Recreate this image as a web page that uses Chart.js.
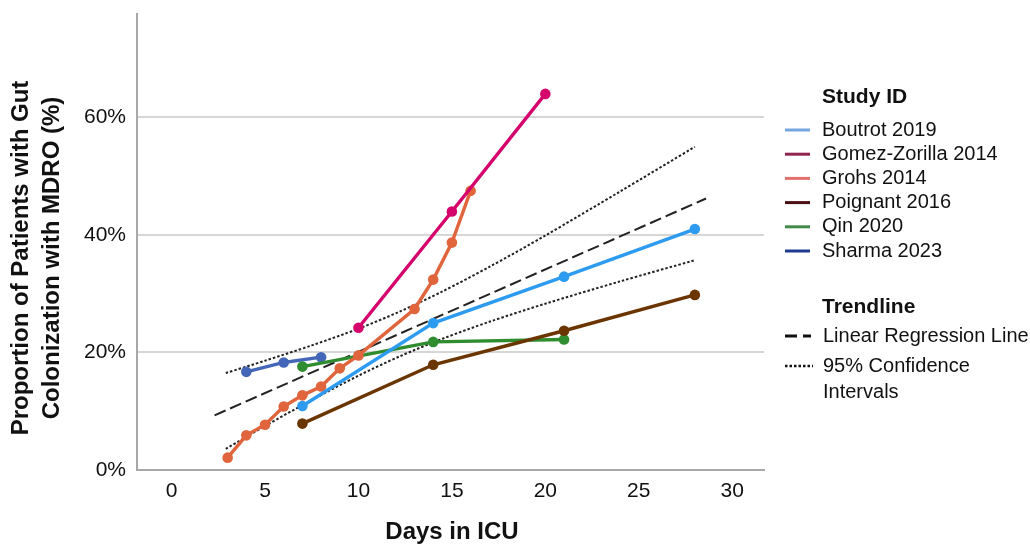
<!DOCTYPE html>
<html><head><meta charset="utf-8">
<script src="https://cdn.jsdelivr.net/npm/chart.js@4.4.1/dist/chart.umd.min.js"></script>
<style>html,body{margin:0;padding:0;background:#fff}#wrap{width:1030px;height:544px;position:relative}</style>
</head><body><div id="wrap"><canvas id="c" width="1030" height="544"></canvas></div>
<script>
// ---- data ----
const studyNames = ['Boutrot 2019','Gomez-Zorilla 2014','Grohs 2014','Poignant 2016','Qin 2020','Sharma 2023'];
const boutrotDays = [7,14,21,28];
const boutrotPct = [10.9,25.0,32.9,41.0];
const gomezDays = [10,15,20];
const gomezPct = [24.2,44.0,64.0];
const grohsDays = [3,4,5,6,7,8,9,10,13,14,15,16];
const grohsPct = [2.1,5.9,7.7,10.8,12.7,14.2,17.3,19.5,27.4,32.4,38.7,47.5];
const poignantDays = [7,14,21,28];
const poignantPct = [7.9,17.9,23.7,29.8];
const qinDays = [7,14,21];
const qinPct = [17.6,21.8,22.2];
const sharmaDays = [4,6,8];
const sharmaPct = [16.7,18.3,19.2];
const regDays = [2.3, 28.6];
const regPct = [9.3, 46.2];
const ciDays = [2.9, 5, 7.5, 10, 12.2, 14.5, 17, 20, 24, 28];
const ciUpper = [16.5, 18.6, 21.2, 24.05, 26.95, 30.4, 34.56, 39.9, 47.4, 55.0];
const ciLower = [3.6, 7.5, 11.9, 16.05, 19.33, 22.34, 25.22, 28.3, 32.1, 35.7];
const xTicks = [0,5,10,15,20,25,30];
const yTicks = [0,20,40,60];
const xTitle = 'Days in ICU';
const yTitle = ['Proportion of Patients with Gut','Colonization with MDRO (%)'];
const legendTitle1 = 'Study ID';
const legendTitle2 = 'Trendline';
const trendNames = ['Linear Regression Line','95% Confidence','Intervals'];

// ---- styles ----
const lineColors = ['#2d9cf0','#d4046c','#e0643c','#6b3500','#2f8c2f','#4466b8'];
const swatchColors = ['#74a7e0','#8f2450','#e2716c','#4a0f12','#418a4a','#1d3b8f'];
const FONT = '"Liberation Sans", Arial, Helvetica, sans-serif';

function pts(xs, ys){ return xs.map((x,i)=>({x:x, y:ys[i]})); }
const seriesX = [boutrotDays, gomezDays, grohsDays, poignantDays, qinDays, sharmaDays];
const seriesY = [boutrotPct, gomezPct, grohsPct, poignantPct, qinPct, sharmaPct];

const datasets = studyNames.map((n,i)=>({
  label: n,
  data: pts(seriesX[i], seriesY[i]),
  showLine: true,
  borderColor: lineColors[i],
  backgroundColor: lineColors[i],
  borderWidth: 3.4,
  pointRadius: 5.3,
  pointBorderWidth: 0,
  pointHoverRadius: 5.3,
  order: 0
}));
datasets.push({
  label: 'reg', data: pts(regDays, regPct), showLine: true,
  borderColor: '#222', borderWidth: 2, borderDash: [12,5], pointRadius: 0, order: 1
});
datasets.push({
  label: 'ciU', data: pts(ciDays, ciUpper), showLine: true, tension: 0.3,
  borderColor: '#222', borderWidth: 2, borderDash: [2.5,2], pointRadius: 0, order: 1
});
datasets.push({
  label: 'ciL', data: pts(ciDays, ciLower), showLine: true, tension: 0.3,
  borderColor: '#222', borderWidth: 2, borderDash: [2.5,2], pointRadius: 0, order: 1
});

const decor = {
  id: 'decor',
  afterDraw(chart){
    const ctx = chart.ctx;
    ctx.save();
    ctx.fillStyle = '#111';
    // axis titles
    ctx.font = 'bold 24px ' + FONT;
    ctx.textAlign = 'center';
    ctx.textBaseline = 'middle';
    ctx.fillText(xTitle, 452, 532);
    ctx.save();
    ctx.translate(21, 258);
    ctx.rotate(-Math.PI/2);
    ctx.fillText(yTitle[0], 0, 0);
    ctx.restore();
    ctx.save();
    ctx.translate(52, 258);
    ctx.rotate(-Math.PI/2);
    ctx.fillText(yTitle[1], 0, 0);
    ctx.restore();
    // legend
    ctx.textAlign = 'left';
    ctx.font = 'bold 21px ' + FONT;
    ctx.fillText(legendTitle1, 822, 97);
    ctx.fillText(legendTitle2, 822, 307);
    ctx.font = '20px ' + FONT;
    const y0 = 130, dy = 24.2;
    studyNames.forEach((n,i)=>{
      const y = y0 + i*dy;
      ctx.strokeStyle = swatchColors[i];
      ctx.lineWidth = 3;
      ctx.setLineDash([]);
      ctx.beginPath(); ctx.moveTo(785, y); ctx.lineTo(810, y); ctx.stroke();
      ctx.fillText(n, 822, y);
    });
    // trend legend
    ctx.strokeStyle = '#111';
    ctx.lineWidth = 3;
    ctx.beginPath(); ctx.moveTo(785, 336); ctx.lineTo(797, 336); ctx.moveTo(803, 336); ctx.lineTo(811, 336); ctx.stroke();
    ctx.lineWidth = 2.5;
    ctx.setLineDash([2.5,2]);
    ctx.beginPath(); ctx.moveTo(785, 366); ctx.lineTo(813, 366); ctx.stroke();
    ctx.setLineDash([]);
    ctx.fillText(trendNames[0], 823, 336);
    ctx.fillText(trendNames[1], 823, 366);
    ctx.fillText(trendNames[2], 823, 392);
    ctx.restore();
  }
};

new Chart(document.getElementById('c'), {
  type: 'scatter',
  data: { datasets },
  options: {
    responsive: false,
    animation: false,
    devicePixelRatio: 1,
    layout: { autoPadding: false, padding: { left: 0, top: 14, right: 266, bottom: 0 } },
    plugins: { legend: { display: false }, tooltip: { enabled: false } },
    scales: {
      x: {
        type: 'linear', min: -1.85, max: 31.7,
        afterBuildTicks: s => { s.ticks = xTicks.map(v=>({value:v})); },
        afterFit: s => { s.height = 74; s.paddingLeft = 0; s.paddingRight = 0; },
        grid: { display: false, drawTicks: false },
        border: { display: true, color: '#a8a8a8', width: 2 },
        ticks: { color: '#111', font: { family: FONT, size: 21 }, padding: 9, maxRotation: 0, callback: v => String(v) }
      },
      y: {
        type: 'linear', min: 0, max: 77.6,
        afterBuildTicks: s => { s.ticks = yTicks.map(v=>({value:v})); },
        afterFit: s => { s.width = 137; s.paddingTop = 0; s.paddingBottom = 0; },
        grid: { color: '#d6d6d6', lineWidth: 2, drawTicks: false },
        border: { display: true, color: '#a8a8a8', width: 2 },
        ticks: { color: '#111', font: { family: FONT, size: 21 }, padding: 11, callback: v => v + '%' }
      }
    }
  },
  plugins: [decor]
});
</script>
</body></html>
